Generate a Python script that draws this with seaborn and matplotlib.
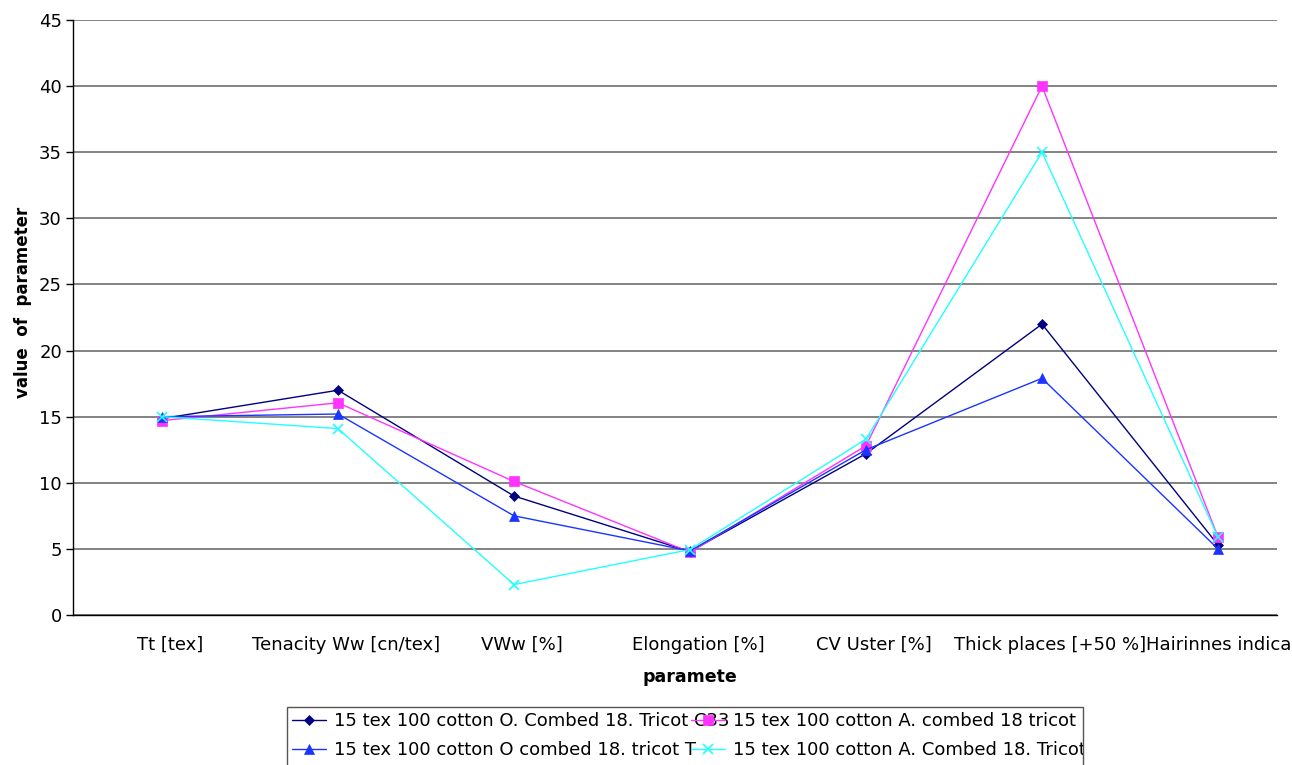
import numpy as np
import pandas as pd
import matplotlib
matplotlib.use("Agg")
import matplotlib.pyplot as plt
import matplotlib.transforms as mtransforms
from matplotlib.patches import Rectangle
import seaborn as sns

# ---- data ----
categories = ["Tt [tex]", "Tenacity Ww [cn/tex]", "VWw [%]", "Elongation [%]",
              "CV Uster [%]", "Thick places [+50 %]", "Hairinnes indica"]
series_names = ["15 tex 100 cotton O. Combed 18. Tricot C33",
                "15 tex 100 cotton A. combed 18 tricot",
                "15 tex 100 cotton O combed 18. tricot T",
                "15 tex 100 cotton A. Combed 18. Tricot"]
s1_values = [14.85, 17.0, 9.0, 4.8, 12.2, 22.0, 5.3]
s2_values = [14.7, 16.05, 10.1, 4.75, 12.8, 40.0, 5.9]
s3_values = [15.0, 15.2, 7.5, 4.85, 12.5, 17.9, 5.0]
s4_values = [15.0, 14.1, 2.3, 4.95, 13.3, 35.0, 5.9]
y_ticks = [0, 5, 10, 15, 20, 25, 30, 35, 40, 45]

colors = ["#000080", "#FF33FF", "#1A35FF", "#22FFFF"]
markers = ["D", "s", "^", "x"]
msizes = [5.0, 6.5, 7.0, 6.5]

rows = []
for name, vals in zip(series_names, [s1_values, s2_values, s3_values, s4_values]):
    for c, v in zip(categories, vals):
        rows.append({"parameter": c, "value": v, "series": name})
df = pd.DataFrame(rows)

sns.set_style("white")
plt.rcParams["font.family"] = ["DejaVu Sans"]
for k in ["text.color", "axes.labelcolor", "xtick.color", "ytick.color"]:
    plt.rcParams[k] = "black"

W, H = 1292, 765
fig = plt.figure(figsize=(W / 100, H / 100), dpi=100)
ax = fig.add_axes([73 / W, 1 - 615 / H, (1277 - 73) / W, (615 - 20) / H])

for name, col, mk, ms in zip(series_names, colors, markers, msizes):
    sub = df[df["series"] == name]
    sns.lineplot(data=sub, x="parameter", y="value", ax=ax, color=col,
                 marker=mk, markersize=ms, markeredgecolor=col,
                 markeredgewidth=1.2 if mk == "x" else 0.5,
                 linewidth=1.0, sort=False, label=name, legend=False)

# axes styling
FS = 13
ax.set_ylim(0, 45)
ax.set_yticks(y_ticks)
x_left = -89 / 176
x_right = 1115 / 176
ax.set_xlim(x_left, x_right)
ax.set_xticks(np.arange(len(categories)))
ax.set_xticklabels(categories, fontsize=FS)
ax.xaxis.set_minor_locator(matplotlib.ticker.FixedLocator(np.arange(-0.5, len(categories), 1)))
ax.tick_params(axis="x", which="major", length=0, pad=15)
ax.tick_params(axis="x", which="minor", length=5, width=1, color="black", direction="out")
ax.tick_params(axis="y", length=5, width=1, color="black", direction="out", labelsize=FS, pad=3, left=True)
offset = mtransforms.ScaledTranslation(8 / 100, 0, fig.dpi_scale_trans)
xlabels = ax.get_xticklabels()
for lab in xlabels[:-1]:
    lab.set_transform(lab.get_transform() + offset)
# last label is cut by the chart edge in the original: show the visible part, right-aligned at the edge
last = xlabels[-1]
last.set_ha("right")
last.set_transform(last.get_transform() + mtransforms.ScaledTranslation((1291 - 1218) / 100, 0, fig.dpi_scale_trans))

ax.grid(axis="y", color="#7a7a7a", linewidth=1.3)
ax.grid(axis="x", visible=False)
ax.set_axisbelow(True)
for s in ["top", "right"]:
    ax.spines[s].set_visible(False)
for s in ["left", "bottom"]:
    ax.spines[s].set_color("black")
    ax.spines[s].set_linewidth(1.0)

ax.set_ylabel("value  of  parameter", fontsize=12, fontweight="bold")
ax.yaxis.set_label_coords(-(73 - 23) / (1277 - 73), (615 - 302) / (615 - 20))
ax.yaxis.label.set_va("center")
ax.set_xlabel("paramete", fontsize=12.5, fontweight="bold")
ax.xaxis.set_label_coords((690 - 73) / (1277 - 73), -(677 - 615) / (615 - 20))
ax.xaxis.label.set_va("center")

# legend: two columns placed explicitly, with a frame clipped like the original
handles, labels = ax.get_legend_handles_labels()
hmap = dict(zip(labels, handles))
clip = mtransforms.TransformedBbox(mtransforms.Bbox([[0, 0], [1083 / W, 1]]), fig.transFigure)
leg_kw = dict(frameon=False, loc="upper left", fontsize=FS, handlelength=1.9,
              handletextpad=0.4, labelspacing=0.6, borderpad=0.0, borderaxespad=0.0)
leg1 = fig.legend([hmap[series_names[0]], hmap[series_names[2]]],
                  [series_names[0], series_names[2]],
                  bbox_to_anchor=(292 / W, 1 - 712 / H), **leg_kw)
leg2 = fig.legend([hmap[series_names[1]], hmap[series_names[3]]],
                  [series_names[1], series_names[3]],
                  bbox_to_anchor=(691 / W, 1 - 712 / H), **leg_kw)
for lg in (leg1, leg2):
    for t in lg.get_texts():
        t.set_clip_box(clip)
        t.set_clip_on(True)
frame = Rectangle((287 / W, -0.02), (1083 - 287) / W, (765 - 707) / H + 0.02,
                  transform=fig.transFigure, fill=False, edgecolor="#555555", linewidth=1.0)
fig.add_artist(frame)

fig.savefig("out.png", dpi=100)
